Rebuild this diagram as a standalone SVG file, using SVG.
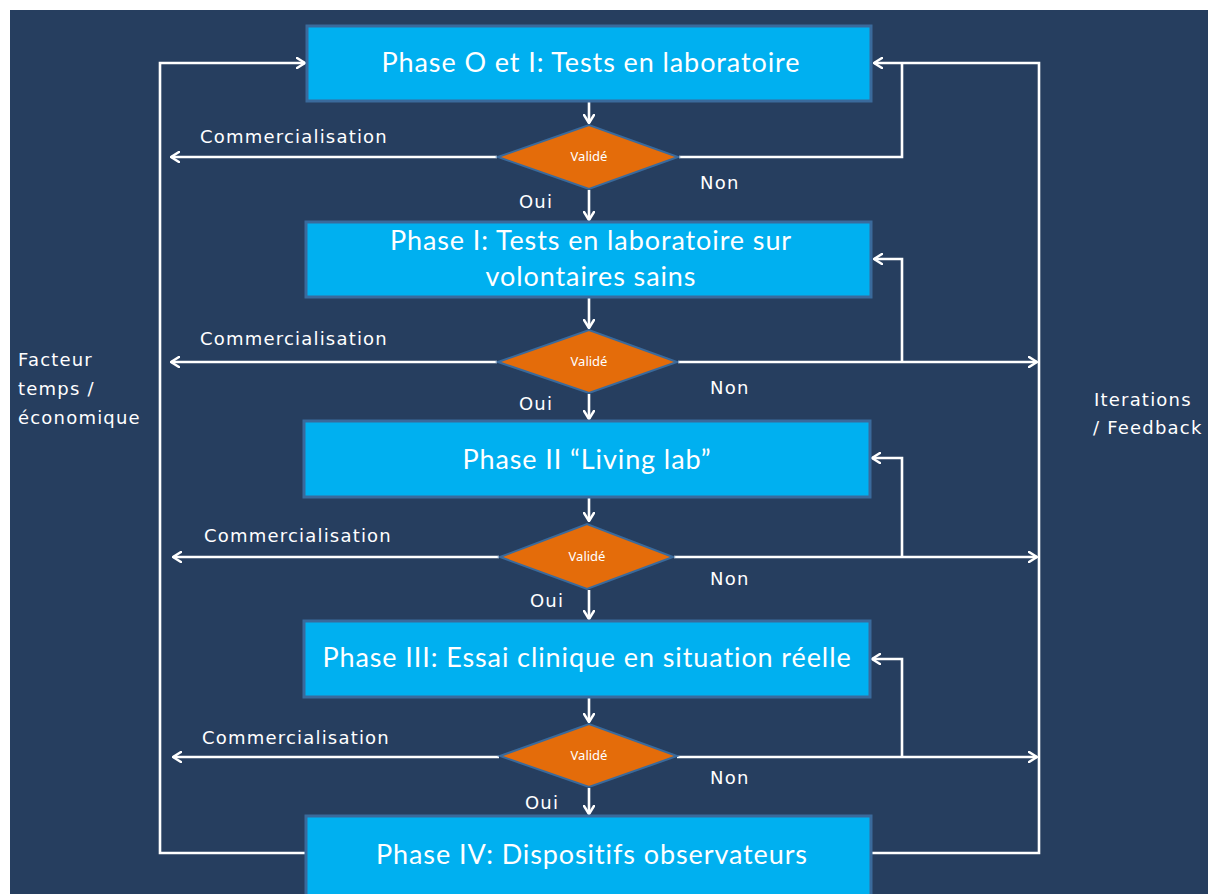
<svg xmlns="http://www.w3.org/2000/svg" width="1208" height="894" viewBox="0 0 1208 894">
<defs>
<marker id="arr" viewBox="0 0 10 12" refX="9" refY="6" markerWidth="10" markerHeight="12" markerUnits="userSpaceOnUse" orient="auto">
<path d="M1,1 L9,6 L1,11" fill="none" stroke="#fff" stroke-width="2.5" stroke-linecap="round" stroke-linejoin="round"/>
</marker>
<style>
.bg{fill:#263E5F}
.box{fill:#00B0F0;stroke:#3A6A9C;stroke-width:3}
.dia{fill:#E46C0A;stroke:#3A6A9C;stroke-width:2}
.ln{fill:none;stroke:#fff;stroke-width:2.6}
.la{fill:none;stroke:#fff;stroke-width:2.6;marker-end:url(#arr)}
.bt{font-family:Lato,"Noto Sans",sans-serif;font-size:27px;letter-spacing:0.9px;fill:#fff;text-anchor:middle}
.dt{font-family:"Noto Sans","DejaVu Sans",sans-serif;font-size:13px;fill:#fff;text-anchor:middle}
.lt{font-family:"DejaVu Sans","Noto Sans",sans-serif;font-size:18px;letter-spacing:1.2px;fill:#fff}
</style>
</defs>
<rect x="0" y="0" width="1208" height="894" fill="#fff"/>
<rect class="bg" x="10" y="10" width="1198" height="884"/>

<g id="connectors">
<polyline class="la" points="306,853 160,853 160,63 305,63"/>
<polyline class="la" points="872,853 1039,853 1039,63 874,63"/>
<polyline class="ln" points="679,157 902,157 902,63"/>
<line class="la" x1="589" y1="102" x2="589" y2="123"/>
<line class="la" x1="589" y1="190" x2="589" y2="220"/>
<line class="la" x1="589" y1="298" x2="589" y2="328"/>
<line class="la" x1="589" y1="394" x2="589" y2="419"/>
<line class="la" x1="589" y1="498" x2="589" y2="521"/>
<line class="la" x1="589" y1="590" x2="589" y2="619"/>
<line class="la" x1="589" y1="698" x2="589" y2="722"/>
<line class="la" x1="589" y1="788" x2="589" y2="814"/>
<line class="la" x1="497" y1="157" x2="171" y2="157"/>
<line class="la" x1="497" y1="362" x2="171" y2="362"/>
<line class="la" x1="499" y1="557" x2="173" y2="557"/>
<line class="la" x1="499" y1="757" x2="173" y2="757"/>
<line class="la" x1="678" y1="362" x2="1037" y2="362"/>
<line class="la" x1="674" y1="557" x2="1037" y2="557"/>
<line class="la" x1="677" y1="757" x2="1037" y2="757"/>
<polyline class="la" points="902,362 902,259 874,259"/>
<polyline class="la" points="902,557 902,458 872,458"/>
<polyline class="la" points="902,757 902,659 872,659"/>
</g>

<g id="phase0">
<rect class="box" x="307" y="26" width="564" height="75"/>
<text class="bt" x="591" y="72">Phase O et I: Tests en laboratoire</text>
</g>
<g id="dec1">
<polygon class="dia" points="498,157 589,125 678,157 589,189"/>
<text class="dt" x="589" y="161">Validé</text>
</g>
<g id="phase1">
<rect class="box" x="306" y="222" width="565" height="75"/>
<text class="bt" x="591" y="250">Phase I: Tests en laboratoire sur</text>
<text class="bt" x="591" y="286">volontaires sains</text>
</g>
<g id="dec2">
<polygon class="dia" points="498,362 589,330 677,362 589,393"/>
<text class="dt" x="589" y="366">Validé</text>
</g>
<g id="phase2">
<rect class="box" x="304" y="421" width="566" height="76"/>
<text class="bt" x="587" y="469">Phase II “Living lab”</text>
</g>
<g id="dec3">
<polygon class="dia" points="500,557 587,524 673,557 587,589"/>
<text class="dt" x="587" y="561">Validé</text>
</g>
<g id="phase3">
<rect class="box" x="304" y="621" width="566" height="76"/>
<text class="bt" x="587" y="667">Phase III: Essai clinique en situation réelle</text>
</g>
<g id="dec4">
<polygon class="dia" points="500,756 589,724 677,756 589,787"/>
<text class="dt" x="589" y="760">Validé</text>
</g>
<g id="phase4">
<rect class="box" x="306" y="816" width="565" height="80"/>
<text class="bt" x="592" y="864">Phase IV: Dispositifs observateurs</text>
</g>

<g id="labels">
<text class="lt" x="200" y="143">Commercialisation</text>
<text class="lt" x="200" y="345">Commercialisation</text>
<text class="lt" x="204" y="542">Commercialisation</text>
<text class="lt" x="202" y="744">Commercialisation</text>
<text class="lt" x="519" y="208">Oui</text>
<text class="lt" x="519" y="410">Oui</text>
<text class="lt" x="530" y="607">Oui</text>
<text class="lt" x="525" y="809">Oui</text>
<text class="lt" x="700" y="189">Non</text>
<text class="lt" x="710" y="394">Non</text>
<text class="lt" x="710" y="585">Non</text>
<text class="lt" x="710" y="784">Non</text>
<text class="lt" x="18" y="366">Facteur</text>
<text class="lt" x="18" y="395">temps /</text>
<text class="lt" x="18" y="424">économique</text>
<text class="lt" x="1094" y="406">Iterations</text>
<text class="lt" x="1093" y="434">/ Feedback</text>
</g>
</svg>
